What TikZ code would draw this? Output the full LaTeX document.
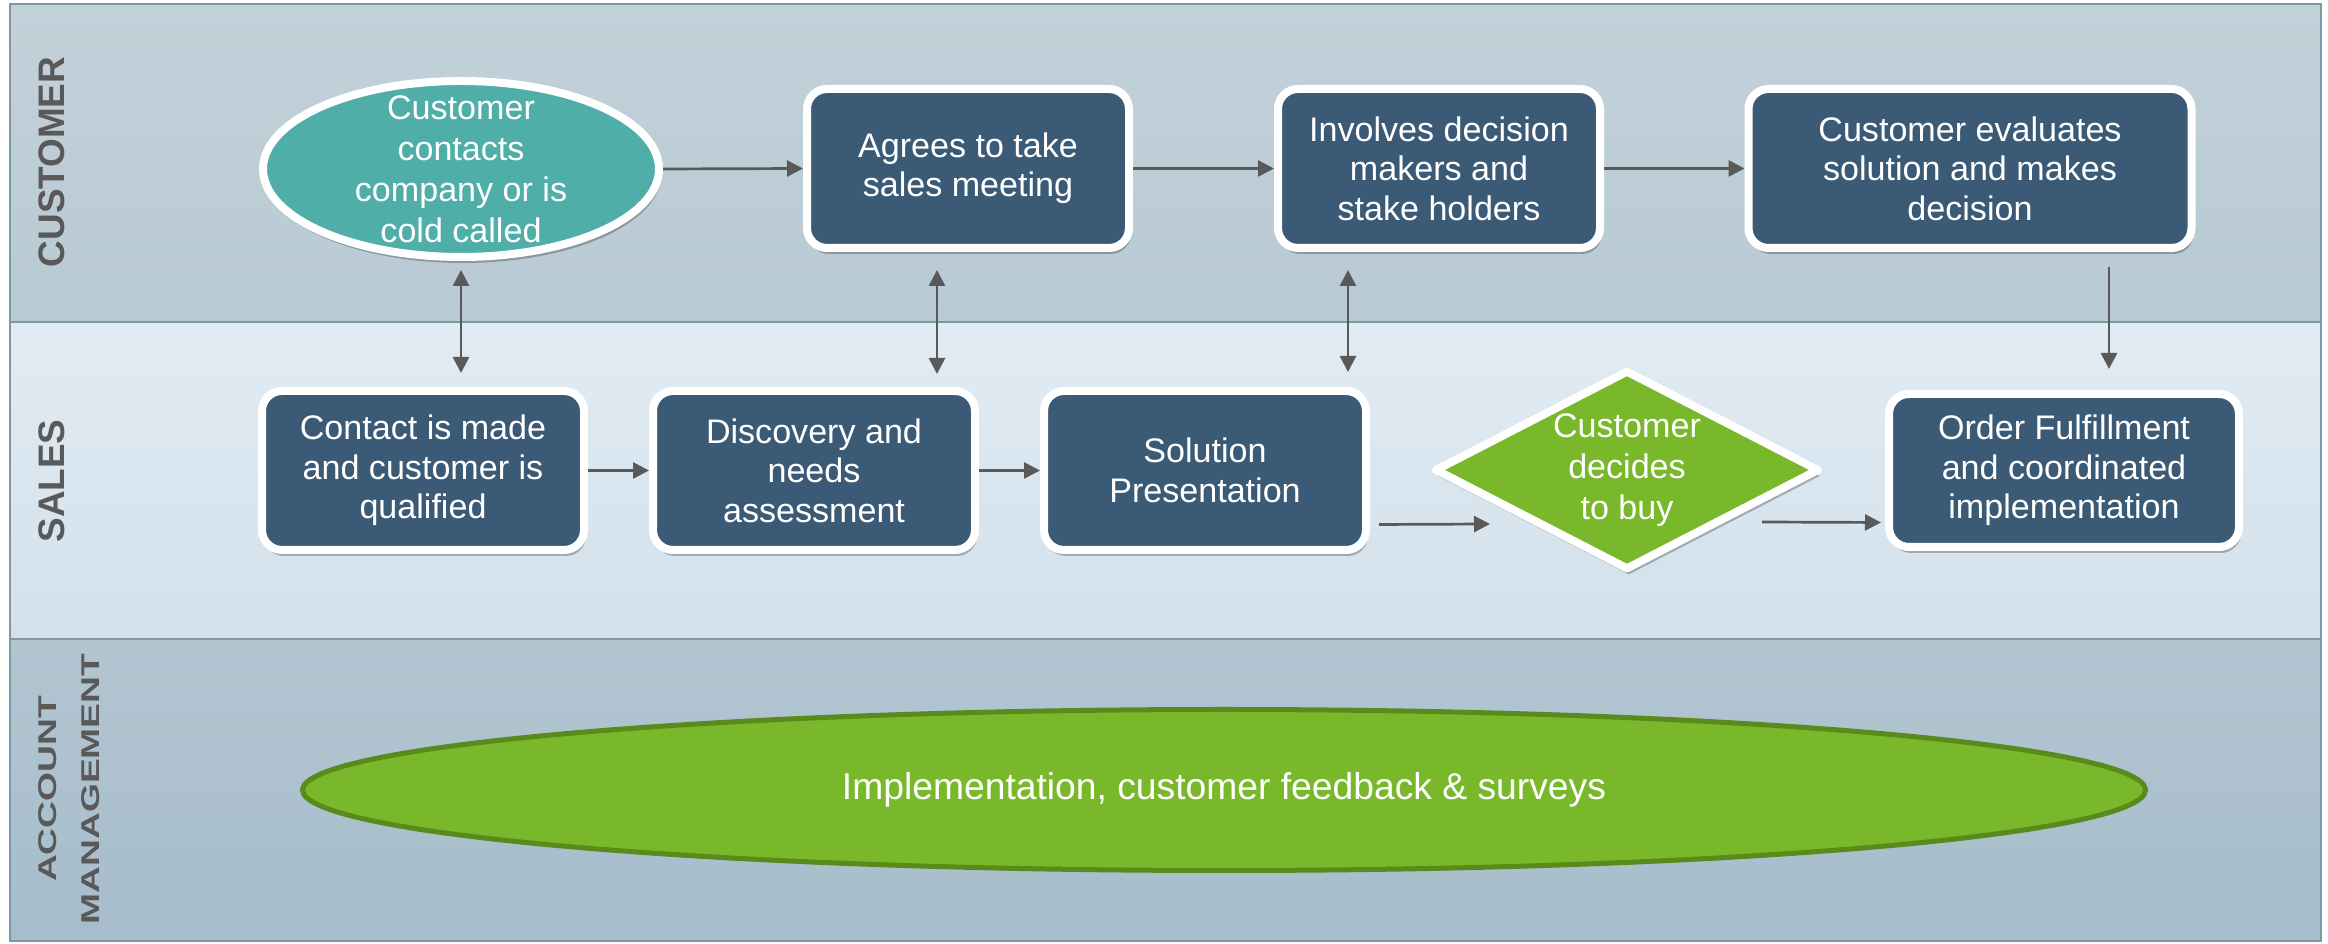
\documentclass[tikz,border=0pt]{standalone}
\usepackage{fontspec}
\setmainfont{Liberation Sans}
\usepackage{tikz}
\usetikzlibrary{shapes.geometric, arrows.meta, positioning, shadows}
\definecolor{boxblue}{RGB}{59, 90, 117}
\definecolor{custteal}{RGB}{79, 175, 168}
\definecolor{buygreen}{RGB}{121, 184, 42}
\definecolor{buygreendark}{RGB}{88, 138, 28}
\definecolor{arrowgray}{RGB}{89, 89, 89}
\definecolor{labelgray}{RGB}{89, 89, 89}
\definecolor{laneborder}{RGB}{127, 152, 168}
\definecolor{custtop}{RGB}{195, 209, 217}
\definecolor{custbot}{RGB}{184, 202, 212}
\definecolor{salestop}{RGB}{225, 235, 243}
\definecolor{salesbot}{RGB}{211, 225, 235}
\definecolor{accttop}{RGB}{178, 197, 209}
\definecolor{acctbot}{RGB}{167, 189, 203}

\begin{document}
\begin{tikzpicture}[
    every node/.style={font=\fontsize{9.7}{11.2}\selectfont},
    block/.style={rectangle, draw=white, fill=boxblue, line width=0.8mm, rounded corners=2mm, minimum width=3.22cm, minimum height=1.59cm, align=center, text=white, drop shadow={shadow xshift=0.02cm, shadow yshift=-0.06cm, fill=black, opacity=0.25}},
    startnode/.style={ellipse, draw=white, fill=custteal, line width=0.8mm, minimum width=3.96cm, minimum height=1.76cm, inner sep=-2mm, align=center, text=white, font=\fontsize{9.7}{11.7}\selectfont, drop shadow={shadow xshift=0.02cm, shadow yshift=-0.06cm, fill=black, opacity=0.25}},
    decision/.style={diamond, draw=white, fill=buygreen, line width=0.8mm, line join=round, minimum width=3.85cm, minimum height=2.00cm, inner sep=-2mm, align=center, text=white, font=\fontsize{9.7}{11.7}\selectfont, drop shadow={shadow xshift=0.02cm, shadow yshift=-0.06cm, fill=black, opacity=0.25}},
    account/.style={ellipse, draw=buygreendark, fill=buygreen, line width=0.5mm, minimum width=18.43cm, minimum height=1.61cm, text=white, font=\fontsize{10.6}{12}\selectfont},
    lanelabel/.style={rotate=90, text=labelgray, font=\fontsize{10.5}{12}\selectfont\bfseries},
    lane/.style={draw=laneborder, line width=0.25mm},
    arrow/.style={-{Triangle[length=1.6mm, width=1.6mm]}, line width=0.27mm, arrowgray},
    biarrow/.style={{Triangle[length=1.6mm, width=1.6mm]}-{Triangle[length=1.6mm, width=1.6mm]}, line width=0.27mm, arrowgray}
]
    \useasboundingbox (0,0) rectangle (23.28,9.44);

    \shade [top color=custtop, bottom color=custbot] (0.10,6.22) rectangle (23.21,9.40);
    \shade [top color=salestop, bottom color=salesbot] (0.10,3.05) rectangle (23.21,6.22);
    \shade [top color=accttop, bottom color=acctbot] (0.10,0.03) rectangle (23.21,3.05);
    \draw [lane] (0.10,0.03) rectangle (23.21,9.40);
    \draw [lane] (0.10,6.22) -- (23.21,6.22);
    \draw [lane] (0.10,3.05) -- (23.21,3.05);

    \node (custlane) [lanelabel] at (0.52,7.82) {CUSTOMER};
    \node (saleslane) [lanelabel] at (0.52,4.63) {SALES};
    \node (acctlane) [lanelabel, font=\fontsize{7.3}{12.4}\selectfont\bfseries, xscale=1.45, transform shape, align=center] at (0.69,1.55) {ACCOUNT\\MANAGEMENT};

    \node (contacts) [startnode] at (4.61,7.75) {Customer\\contacts\\company or is\\cold called};
    \node (meeting) [block] at (9.68,7.755) {Agrees to take\\sales meeting};
    \node (stake) [block] at (14.39,7.755) {Involves decision\\makers and\\stake holders};
    \node (evaluate) [block, minimum width=4.43cm] at (19.70,7.755) {Customer evaluates\\solution and makes\\decision};
    \node (qualify) [block] at (4.23,4.735) {Contact is made\\and customer is\\qualified};
    \node (discovery) [block] at (8.14,4.735) {Discovery and\\needs\\assessment};
    \node (present) [block] at (12.05,4.735) {Solution\\Presentation};
    \node (buy) [decision] at (16.27,4.74) {Customer\\decides\\to buy};
    \node (fulfil) [block, minimum width=3.50cm, minimum height=1.53cm] at (20.64,4.735) {Order Fulfillment\\and coordinated\\implementation};
    \node (feedback) [account] at (12.24,1.54) {Implementation, customer feedback \& surveys};

    \draw [arrow] (contacts.east) -- (meeting.west);
    \draw [arrow] (meeting) -- (stake);
    \draw [arrow] (stake) -- (evaluate);
    \draw [biarrow, shorten <=0.09cm, shorten >=0.14cm] (contacts.south) -- (contacts.south |- qualify.north);
    \draw [biarrow, shorten <=0.18cm, shorten >=0.13cm] ([xshift=-0.31cm]meeting.south) -- ([xshift=-0.31cm]meeting.south |- discovery.north);
    \draw [biarrow, shorten <=0.18cm, shorten >=0.15cm] ([xshift=-0.91cm]stake.south) -- ([xshift=-0.91cm]stake.south |- present.north);
    \draw [arrow, shorten <=0.15cm, shorten >=0.21cm] ([xshift=1.39cm]evaluate.south) -- ([xshift=1.39cm]evaluate.south |- fulfil.north);
    \draw [arrow] (qualify) -- (discovery);
    \draw [arrow] (discovery) -- (present);
    \draw [arrow] ([shift={(0.09,-0.54)}]present.east) -- ([shift={(-1.37,-0.54)}]buy.center);
    \draw [arrow, shorten >=0.04cm] ([shift={(1.35,-0.52)}]buy.center) -- ([yshift=-0.52cm]fulfil.west);
\end{tikzpicture}
\end{document}
